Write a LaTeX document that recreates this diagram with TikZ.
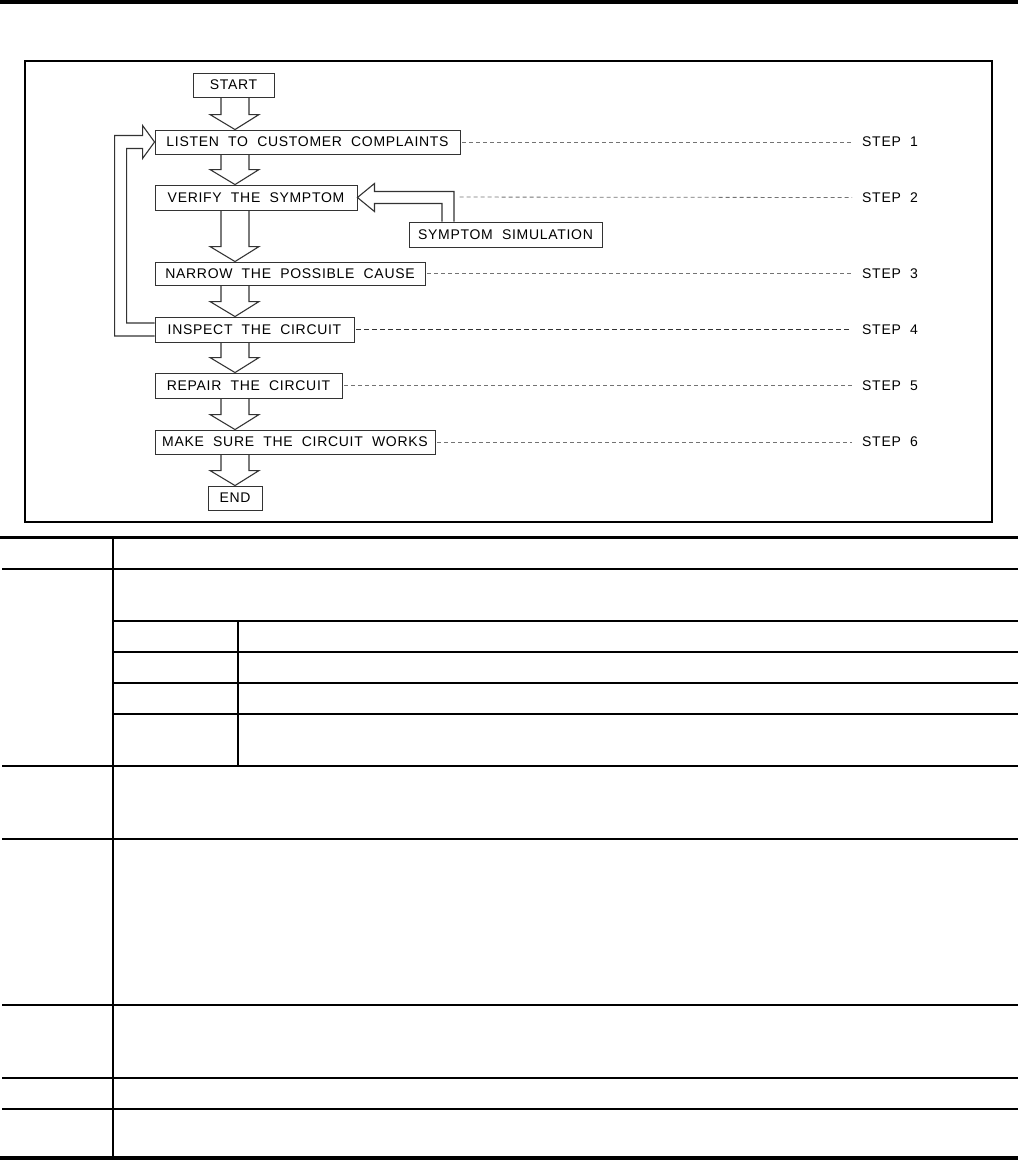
\documentclass[tikz,border=0pt]{standalone}
\usepackage{fontspec}
\setmainfont[LetterSpace=5,WordSpace=2.0]{Liberation Sans}
\usetikzlibrary{calc}
\tikzset{
  box/.style={draw=black!80, line width=0.9pt, inner sep=0pt, font=\fontsize{14}{14}\selectfont, text=black},
  hollow/.style={draw=black!80, line width=1.1pt, line join=miter},
  dashline/.style={draw=black!55, line width=0.8pt, dash pattern=on 4pt off 3pt, shorten <=2pt},
  steplabel/.style={inner sep=0pt, anchor=west, font=\fontsize{14}{14}\selectfont},
  rule/.style={line width=1.5pt},
  thickrule/.style={line width=3.2pt}
}
\newcommand{\hollowdown}[2]{%
  \draw[hollow] (sl |- #1.south) -- ($(#2.north -| sl)+(0,-15)$) -- ++(-11,0)
    -- (#2.north -| ax) -- ($(#2.north -| sr)+(10,-15)$) -- ++(-10,0) -- (sr |- #1.south);}
\begin{document}
\begin{tikzpicture}[x=1pt,y=-1pt]
\useasboundingbox (0,0) rectangle (1018,1162);
% top bar
\fill[black] (0,0) rectangle (1018,4);
% frame
\draw[line width=2pt] (25,61) rectangle (992,522);
% axis coordinates for vertical arrows
\coordinate (sl) at (221,0);
\coordinate (sr) at (249,0);
\coordinate (ax) at (235,0);
% boxes
\node[box, minimum width=81pt, minimum height=24pt] (start) at (233.5,85) {START};
\node[box, minimum width=305pt, minimum height=24pt] (listen) at (307.5,142) {LISTEN TO CUSTOMER COMPLAINTS};
\node[box, minimum width=202pt, minimum height=25pt] (verify) at (256,197.5) {VERIFY THE SYMPTOM};
\node[box, minimum width=193pt, minimum height=25pt] (symsim) at (505.5,234.5) {SYMPTOM SIMULATION};
\node[box, minimum width=270pt, minimum height=23pt] (narrow) at (290,273.5) {NARROW THE POSSIBLE CAUSE};
\node[box, minimum width=199pt, minimum height=25pt] (inspect) at (254.5,329.5) {INSPECT THE CIRCUIT};
\node[box, minimum width=187pt, minimum height=25pt] (repair) at (248.5,385.5) {REPAIR THE CIRCUIT};
\node[box, minimum width=280pt, minimum height=24pt] (make) at (295,442) {MAKE SURE THE CIRCUIT WORKS};
\node[box, minimum width=54pt, minimum height=24pt] (end) at (235,498) {END};
% vertical hollow arrows
\hollowdown{start}{listen}
\hollowdown{listen}{verify}
\hollowdown{verify}{narrow}
\hollowdown{narrow}{inspect}
\hollowdown{inspect}{repair}
\hollowdown{repair}{make}
\hollowdown{make}{end}
% feedback arrow inspect -> listen
\draw[hollow] ([yshift=-6.5pt]inspect.west) -- ++(-40,0) |- ([xshift=-12pt,yshift=6.5pt]listen.west)
  -- ([xshift=-12pt,yshift=16.5pt]listen.west) -- (listen.west)
  -- ([xshift=-12pt,yshift=-16.5pt]listen.west) -- ([xshift=-12pt,yshift=-6.5pt]listen.west)
  -| ([xshift=-28pt,yshift=6.5pt]inspect.west) -- ([yshift=6.5pt]inspect.west);
% symptom simulation arrow -> verify
\draw[hollow] ([xshift=-51.5pt]symsim.north) |- ([xshift=17pt,yshift=6pt]verify.east)
  -- ([xshift=17pt,yshift=14pt]verify.east) -- (verify.east)
  -- ([xshift=17pt,yshift=-14pt]verify.east) -- ([xshift=17pt,yshift=-6pt]verify.east)
  -| ([xshift=-63.5pt]symsim.north);
% step labels
\node[steplabel] (s1) at (862,142) {STEP 1};
\node[steplabel] (s2) at (862,197.5) {STEP 2};
\node[steplabel] (s3) at (862,273.5) {STEP 3};
\node[steplabel] (s4) at (862,329.5) {STEP 4};
\node[steplabel] (s5) at (862,385.5) {STEP 5};
\node[steplabel] (s6) at (862,442) {STEP 6};
\coordinate (s2start) at ($(symsim.north)+(-48,-24.5)$);
\draw[dashline] (listen.east) -- ([xshift=-10pt]s1.west);
\draw[dashline] (s2start) -- ([xshift=-10pt]s2.west);
\draw[dashline] (narrow.east) -- ([xshift=-10pt]s3.west);
\draw[dashline, draw=black!80, line width=0.9pt, dash pattern=on 5pt off 3pt] (inspect.east) -- ([xshift=-10pt]s4.west);
\draw[dashline] (repair.east) -- ([xshift=-10pt]s5.west);
\draw[dashline] (make.east) -- ([xshift=-10pt]s6.west);
% table
\draw[thickrule] (0,537.5) -- (1018,537.5);
\draw[thickrule] (0,1158) -- (1018,1158);
\draw[rule] (113,539) -- (113,1156);
\draw[rule] (238,621) -- (238,766);
\foreach \yy in {569,766,839,1005,1078,1109} {\draw[rule] (2,\yy) -- (1018,\yy);}
\foreach \yy in {621,652,683,714} {\draw[rule] (113,\yy) -- (1018,\yy);}
\end{tikzpicture}
\end{document}
